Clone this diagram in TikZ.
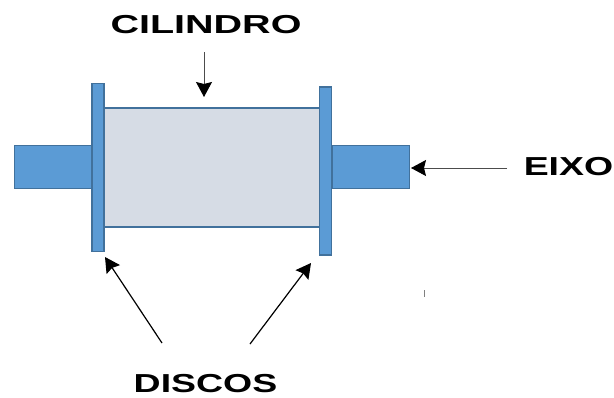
\documentclass[tikz,border=0pt]{standalone}
\usepackage{fontspec}
\usepackage{graphicx}
\setmainfont{Liberation Sans}
\usetikzlibrary{arrows.meta}
\definecolor{partblue}{HTML}{5B9BD5}
\definecolor{edgeblue}{HTML}{41719C}
\definecolor{cyl}{HTML}{D6DCE5}
\tikzset{
  part/.style={draw=edgeblue,line width=1.5pt,fill=partblue,inner sep=0pt},
  lab/.style={font=\bfseries\fontsize{26}{26}\selectfont,inner sep=0pt},
  arr/.style={-{Stealth[length=15pt,width=16pt,inset=2pt,color=black]},line width=0.9pt,black!70},
  darr/.style={arr,line width=1.2pt,black}
}
\newcommand{\widetext}[2]{\scalebox{#1}[1]{#2}}
\begin{document}
\begin{tikzpicture}[x=1pt,y=-1pt]
\useasboundingbox (0,0) rectangle (614,397);
\draw[part] (14.5,145.5) rectangle (92,188.5);
\draw[part] (332,145.5) rectangle (409.5,188.5);
\draw[part,line width=1.2pt,fill=cyl] (104,108) rectangle (320,227);
\node[part,minimum width=12pt,minimum height=168pt] (d1) at (98,167.5) {};
\node[part,minimum width=12pt,minimum height=168pt] (d2) at (325.5,171) {};
\coordinate (cyt) at (204,97);
\coordinate (cys) at (204,52);
\draw[arr] (cys) -- (cyt);
\coordinate (ex) at (411,168);
\coordinate (exs) at (507,168);
\draw[arr] (exs) -- (ex);
\coordinate (a1s) at (162,343);
\coordinate (a1e) at (105,257);
\coordinate (a2s) at (250,344);
\coordinate (a2e) at (311,263);
\draw[darr] (a1s) -- (a1e);
\draw[darr] (a2s) -- (a2e);
\node[lab] (c) at (206,25) {\widetext{1.52}{CILINDRO}};
\node[lab] (e) at (568.5,166.5) {\widetext{1.44}{EIXO}};
\node[lab] (ds) at (205.5,384) {\widetext{1.44}{DISCOS}};
\draw[gray,line width=0.8pt] (424,290) -- (424,297);
\end{tikzpicture}
\end{document}
